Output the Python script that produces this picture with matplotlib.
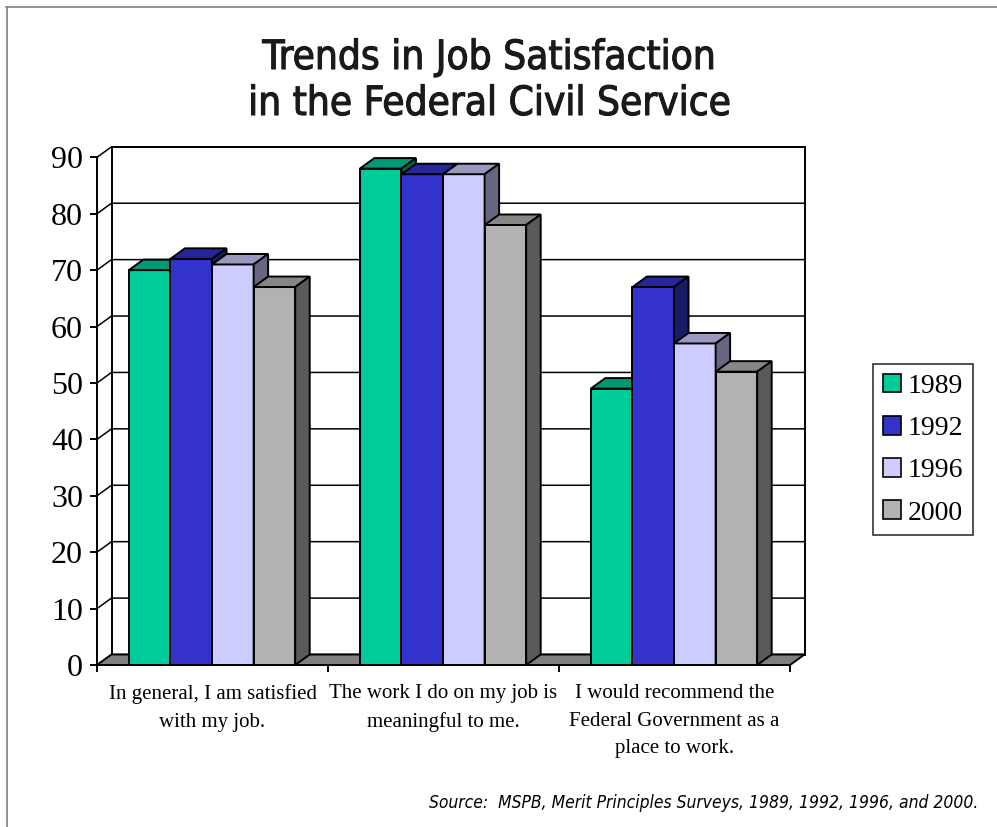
import matplotlib
matplotlib.use("Agg")
import matplotlib.pyplot as plt
from matplotlib.patches import Polygon, Patch
from matplotlib.lines import Line2D
from matplotlib import font_manager
import matplotlib.patheffects as pe

# ---------------- data ----------------
categories = [
    "In general, I am satisfied\nwith my job.",
    "The work I do on my job is\nmeaningful to me.",
    "I would recommend the\nFederal Government as a\nplace to work.",
]
years = ["1989", "1992", "1996", "2000"]
v1989 = [70, 88, 49]
v1992 = [72, 87, 67]
v1996 = [71, 87, 57]
v2000 = [67, 78, 52]
series = [v1989, v1992, v1996, v2000]
yticks = [0, 10, 20, 30, 40, 50, 60, 70, 80, 90]

# ---------------- styles ----------------
front_cols = ["#00CC99", "#3333CC", "#CCCCFF", "#B2B2B2"]
top_cols = ["#009973", "#262699", "#9999BF", "#868686"]
side_cols = ["#00664D", "#1A1A66", "#666680", "#5A5A5A"]

names = {f.name for f in font_manager.fontManager.ttflist}
if "Liberation Sans Narrow" in names:
    narrow = dict(family="Liberation Sans Narrow")
else:
    narrow = dict(family="DejaVu Sans", stretch="condensed")
serif = "Liberation Serif"

W, H = 997, 827
fig = plt.figure(figsize=(W / 100, H / 100), dpi=100)

L, R, T, B = 97, 790, 157.3, 665
ax = fig.add_axes([L / W, (H - B) / H, (R - L) / W, (B - T) / H])
ax.set_xlim(0, 3)
ax.set_ylim(0, 90)
for sp in ax.spines.values():
    sp.set_visible(False)

# depth offsets (pixels -> data)
DXP, DYP = 14.5, 10.5
dx = DXP / (R - L) * 3
dy = DYP / (B - T) * 90

LW = 1.4
GLW = 1.1
# back wall + gridlines
for v in yticks:
    ax.add_line(Line2D([0, dx, 3 + dx], [v, v + dy, v + dy], color="black", lw=GLW, zorder=1, clip_on=False))
ax.add_line(Line2D([dx, dx], [dy, 90 + dy], color="black", lw=LW, zorder=1, clip_on=False))
ax.add_line(Line2D([3 + dx, 3 + dx], [dy, 90 + dy], color="black", lw=LW, zorder=1, clip_on=False))
ax.add_line(Line2D([dx, 3 + dx], [90 + dy, 90 + dy], color="black", lw=LW, zorder=1, clip_on=False))
ax.add_line(Line2D([0, 0], [0, 90], color="black", lw=LW, zorder=1, clip_on=False))
# floor
ax.add_patch(Polygon([(0, 0), (3, 0), (3 + dx, dy), (dx, dy)], closed=True,
                     facecolor="#808080", edgecolor="black", lw=LW, zorder=2, clip_on=False))

# bars
w = 0.18
off = 0.138
for s, vals in enumerate(series):
    z = 3 + s
    xs = [g + off + s * w for g in range(3)]
    ax.bar(xs, vals, width=w, align="edge", color=front_cols[s], edgecolor="black",
           lw=LW, zorder=z, clip_on=False)
    for x0, v in zip(xs, vals):
        ax.add_patch(Polygon([(x0, v), (x0 + w, v), (x0 + w + dx, v + dy), (x0 + dx, v + dy)],
                             closed=True, facecolor=top_cols[s], edgecolor="black", lw=LW,
                             zorder=z, clip_on=False))
        ax.add_patch(Polygon([(x0 + w, 0), (x0 + w + dx, dy), (x0 + w + dx, v + dy), (x0 + w, v)],
                             closed=True, facecolor=side_cols[s], edgecolor="black", lw=LW,
                             zorder=z, clip_on=False))

# axes ticks
ax.set_yticks(yticks)
ax.set_yticklabels([str(t) for t in yticks], fontsize=23, family=serif)
ax.tick_params(axis="y", direction="out", length=5, width=LW, pad=5)
ax.set_xticks([0, 1, 2, 3])
ax.set_xticklabels([])
ax.tick_params(axis="x", which="major", direction="out", length=5, width=LW)
ax.set_xticks([0.5, 1.5, 2.5], minor=True)
ax.set_xticklabels(categories, minor=True, fontsize=15, family=serif, linespacing=1.6)
ax.tick_params(axis="x", which="minor", length=0, pad=14)

# legend
handles = [Patch(facecolor=c, edgecolor="black", lw=1.2) for c in front_cols]
leg = fig.legend(handles, years, loc="upper left", bbox_to_anchor=(873 / W, 1 - 364 / H),
                 bbox_transform=fig.transFigure, frameon=True, fancybox=False,
                 prop=dict(family=serif, size=20), handlelength=0.65, handleheight=0.65,
                 handletextpad=0.25, labelspacing=0.62, borderpad=0.35, borderaxespad=0)
leg.get_frame().set_edgecolor("black")
leg.get_frame().set_linewidth(1.2)

# title
thick = [pe.withStroke(linewidth=0.8, foreground="#1a1a1a")]
for txt, yy in [("Trends in Job Satisfaction", 58), ("in the Federal Civil Service", 104)]:
    fig.text(489 / W, 1 - yy / H, txt, ha="center", va="center", color="#1a1a1a",
             fontsize=29, path_effects=thick, **narrow)

# source
fig.text(978 / W, 1 - 803 / H, "Source:  MSPB, Merit Principles Surveys, 1989, 1992, 1996, and 2000.",
         ha="right", va="center", fontsize=12.5, style="italic", **narrow)

# outer frame (top and left)
fig.add_artist(Line2D([6 / W, 1], [1 - 7 / H, 1 - 7 / H], color="#808080", lw=1.2, transform=fig.transFigure))
fig.add_artist(Line2D([7 / W, 7 / W], [0, 1 - 7 / H], color="#808080", lw=1.2, transform=fig.transFigure))

fig.savefig("out.png", dpi=100)
